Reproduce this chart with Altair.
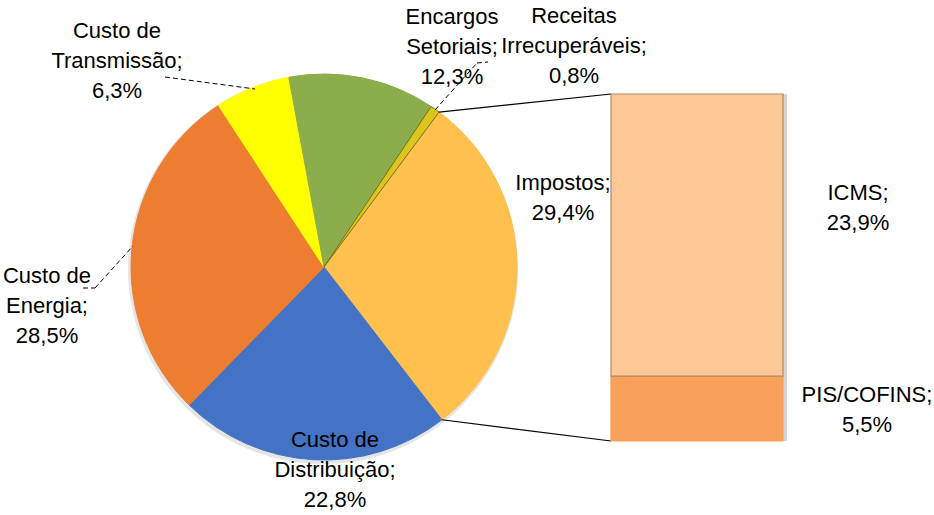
import math
import altair as alt
import pandas as pd

# ---- data ----
categories = ["Impostos", "Custo de Distribuição", "Custo de Energia",
              "Custo de Transmissão", "Encargos Setoriais", "Receitas Irrecuperáveis"]
values = [29.4, 22.8, 28.5, 6.3, 12.3, 0.8]
sub_categories = ["PIS/COFINS", "ICMS"]
sub_values = [5.5, 23.9]

# label wrapping (display text)
cat_names_wrapped = ["Impostos;", "Custo de\nDistribuição;", "Custo de\nEnergia;",
                     "Custo de\nTransmissão;", "Encargos\nSetoriais;", "Receitas\nIrrecuperáveis;"]
sub_names_wrapped = ["PIS/COFINS;", "ICMS;"]

# ---- styles / layout ----
W, H = 934, 515
FONT = "Liberation Sans"
FS = 22
LH = 30
pie_colors = ["#FFC04D", "#4472C4", "#ED7D31", "#FFFF00", "#8BAD4B", "#DCC51C"]
pie_strokes = ["#FFC04D", "#4472C4", "#ED7D31", "#FFFF00", "#8BAD4B", "#7A6E1E"]
sub_colors = ["#F9A05A", "#FDC896"]
sub_strokes = ["#F9A05A", "#B08860"]
CX, CY, R = 324, 267, 193
START_DEG = 36.6
BAR_X0, BAR_X1 = 611, 783
BAR_TOP, BAR_BOTTOM = 94, 441

cat_label_pos = [(563, 190), (335, 447), (47, 283), (117, 38), (452, 24), (574, 23)]
sub_label_pos = [(867, 402), (858, 200)]


def fmt(v):
    return f"{v:.1f}%".replace(".", ",")


total = sum(values)
a0 = math.radians(START_DEG)

pie_df = pd.DataFrame({"cat": categories, "value": values, "idx": range(len(values))})
pie = alt.Chart(pie_df).mark_arc(outerRadius=R, strokeWidth=1).encode(
    x=alt.value(CX), y=alt.value(CY),
    theta=alt.Theta("value:Q", stack=True,
                    scale=alt.Scale(domain=[0, total], range=[a0, a0 + 2 * math.pi])),
    order=alt.Order("idx:Q"),
    color=alt.Color("cat:N", scale=alt.Scale(domain=categories, range=pie_colors), legend=None),
    stroke=alt.Stroke("cat:N", scale=alt.Scale(domain=categories, range=pie_strokes), legend=None),
)

# soft shadow behind pie
shadow = alt.Chart(pd.DataFrame({"v": [1]})).mark_arc(
    outerRadius=R + 2, color="#000000", opacity=0.10
).encode(x=alt.value(CX - 1), y=alt.value(CY + 2), theta=alt.Theta("v:Q"))

# bar of the Impostos breakdown: stacked from bottom (PIS/COFINS) to top (ICMS)
sub_total = sum(sub_values)
starts = [sum(sub_values[:i]) for i in range(len(sub_values))]
ends = [s + v for s, v in zip(starts, sub_values)]
bar_df = pd.DataFrame({"cat": sub_categories, "y0": starts, "y1": ends})
bar_scale = alt.Scale(domain=[0, sub_total], range=[BAR_BOTTOM, BAR_TOP])
bar_shadow = alt.Chart(bar_df).mark_rect(color="#000000", opacity=0.16).encode(
    x=alt.value(BAR_X0 + 3), x2=alt.value(BAR_X1 + 4),
    y=alt.Y("y0:Q", scale=bar_scale, axis=None), y2="y1:Q",
)
bar = alt.Chart(bar_df).mark_rect(strokeWidth=1.2).encode(
    x=alt.value(BAR_X0), x2=alt.value(BAR_X1),
    y=alt.Y("y0:Q", scale=bar_scale, axis=None), y2="y1:Q",
    color=alt.Color("cat:N", scale=alt.Scale(domain=sub_categories, range=sub_colors), legend=None),
    stroke=alt.Stroke("cat:N", scale=alt.Scale(domain=sub_categories, range=sub_strokes), legend=None),
)

# connector lines from Impostos slice edges to bar corners
t_start = a0
t_end = a0 + values[0] / total * 2 * math.pi
conn_df = pd.DataFrame({
    "x": [CX + R * math.sin(t_start), CX + R * math.sin(t_end)],
    "y": [CY - R * math.cos(t_start), CY - R * math.cos(t_end)],
    "x2": [BAR_X0, BAR_X0],
    "y2": [BAR_TOP, BAR_BOTTOM],
})
connectors = alt.Chart(conn_df).mark_rule(color="#000000", strokeWidth=1.2).encode(
    x=alt.X("x:Q", scale=None), y=alt.Y("y:Q", scale=None),
    x2="x2:Q", y2="y2:Q",
)

# dashed leader lines
lead_df = pd.DataFrame({
    "x":  [165, 83, 95, 435, 477],
    "y":  [77, 288, 288, 110, 63],
    "x2": [255, 95, 133, 477, 488],
    "y2": [89, 288, 246, 63, 62],
})
leaders = alt.Chart(lead_df).mark_rule(color="#000000", strokeWidth=1, strokeDash=[5, 3]).encode(
    x=alt.X("x:Q", scale=None), y=alt.Y("y:Q", scale=None),
    x2="x2:Q", y2="y2:Q",
)

labels = []
for name, v, (lx, ly) in zip(cat_names_wrapped, values, cat_label_pos):
    labels.append({"t": name + "\n" + fmt(v), "x": lx, "y": ly})
for name, v, (lx, ly) in zip(sub_names_wrapped, sub_values, sub_label_pos):
    labels.append({"t": name + "\n" + fmt(v), "x": lx, "y": ly})
lab_df = pd.DataFrame(labels)
text = alt.Chart(lab_df).mark_text(
    font=FONT, fontSize=FS, lineHeight=LH, lineBreak="\n",
    align="center", baseline="alphabetic", color="#000000"
).encode(x=alt.X("x:Q", scale=None), y=alt.Y("y:Q", scale=None), text="t:N")

chart = alt.layer(shadow, pie, connectors, leaders, bar_shadow, bar, text).resolve_scale(
    x="independent", y="independent", color="independent", stroke="independent", theta="independent"
).properties(
    width=W, height=H, padding=0, autosize=alt.AutoSizeParams(type="none"),
    background="#FFFFFF"
).configure_view(stroke=None)

chart.save("out.html", embed_options={"renderer": "svg", "actions": False})
